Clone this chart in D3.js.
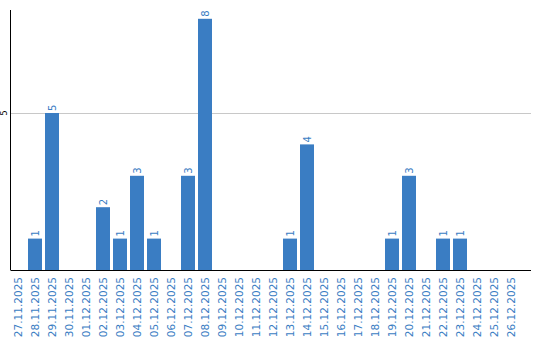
<!DOCTYPE html>
<html>
<head>
<meta charset="utf-8">
<script src="https://cdnjs.cloudflare.com/ajax/libs/d3/7.8.5/d3.min.js"></script>
<style>
  body { margin: 0; background: #fff; }
  text { font-family: "DejaVu Sans", Verdana, sans-serif; }
</style>
</head>
<body>
<script>
var width = 540;
var height = 340;

// data
var dates = ['27.11.2025','28.11.2025','29.11.2025','30.11.2025','01.12.2025','02.12.2025',
  '03.12.2025','04.12.2025','05.12.2025','06.12.2025','07.12.2025','08.12.2025',
  '09.12.2025','10.12.2025','11.12.2025','12.12.2025','13.12.2025','14.12.2025',
  '15.12.2025','16.12.2025','17.12.2025','18.12.2025','19.12.2025','20.12.2025',
  '21.12.2025','22.12.2025','23.12.2025','24.12.2025','25.12.2025','26.12.2025'];
var counts = [0,1,5,0,0,2,1,3,1,0,3,8,0,0,0,0,1,4,0,0,0,0,1,3,0,1,1,0,0,0];
var yTicks = [5];

var blue = '#3a7dc3';
var plotLeft = 10.5, plotRight = 531, plotBase = 270, plotTop = 10;

var svg = d3.select('body')
  .append('svg')
  .attr('width', width)
  .attr('height', height);

var x = d3.scaleBand()
  .domain(dates)
  .range([11, 521])
  .paddingInner(3 / 17)
  .paddingOuter(3 / 34)
  .align(0);

var y = d3.scaleLinear()
  .domain([0, 8.28])
  .range([plotBase, plotTop]);

// grid line
svg.selectAll('.grid')
  .data(yTicks)
  .enter()
  .append('line')
  .attr('x1', plotLeft)
  .attr('x2', plotRight)
  .attr('y1', function(d) { return Math.round(y(d)) + 0.5; })
  .attr('y2', function(d) { return Math.round(y(d)) + 0.5; })
  .attr('stroke', '#c8c8c8')
  .attr('stroke-width', 1);

// y tick labels
svg.selectAll('.ylab')
  .data(yTicks)
  .enter()
  .append('text')
  .attr('transform', function(d) { return 'translate(7,' + y(d) + ') rotate(-90)'; })
  .attr('text-anchor', 'middle')
  .attr('font-size', '8px')
  .attr('fill', '#000')
  .text(function(d) { return d; });

// bars
svg.selectAll('.bar')
  .data(counts)
  .enter()
  .append('rect')
  .attr('x', function(d, i) { return x(dates[i]); })
  .attr('y', function(d) { return y(d); })
  .attr('width', x.bandwidth())
  .attr('height', function(d) { return plotBase - y(d); })
  .attr('fill', blue);

// value labels
svg.selectAll('.vlab')
  .data(counts.map(function(d, i) { return { v: d, date: dates[i] }; }).filter(function(d) { return d.v > 0; }))
  .enter()
  .append('text')
  .attr('transform', function(d) {
    return 'translate(' + (x(d.date) + x.bandwidth() / 2 + 3.5) + ',' + (y(d.v) - 2) + ') rotate(-90)';
  })
  .attr('text-anchor', 'start')
  .attr('font-size', '10px')
  .attr('fill', blue)
  .text(function(d) { return d.v; });

// x labels
svg.selectAll('.xlab')
  .data(dates)
  .enter()
  .append('text')
  .attr('transform', function(d) {
    return 'translate(' + (x(d) + x.bandwidth() / 2 + 3.5) + ',' + 277 + ') rotate(-90)';
  })
  .attr('text-anchor', 'end')
  .attr('font-size', '10.5px')
  .attr('fill', blue)
  .text(function(d) { return d; });

// axes lines
svg.append('line')
  .attr('x1', plotLeft).attr('x2', plotLeft)
  .attr('y1', plotTop).attr('y2', plotBase)
  .attr('stroke', '#000');

svg.append('line')
  .attr('x1', plotLeft).attr('x2', plotRight)
  .attr('y1', plotBase + 0.5).attr('y2', plotBase + 0.5)
  .attr('stroke', '#000');
</script>
</body>
</html>
